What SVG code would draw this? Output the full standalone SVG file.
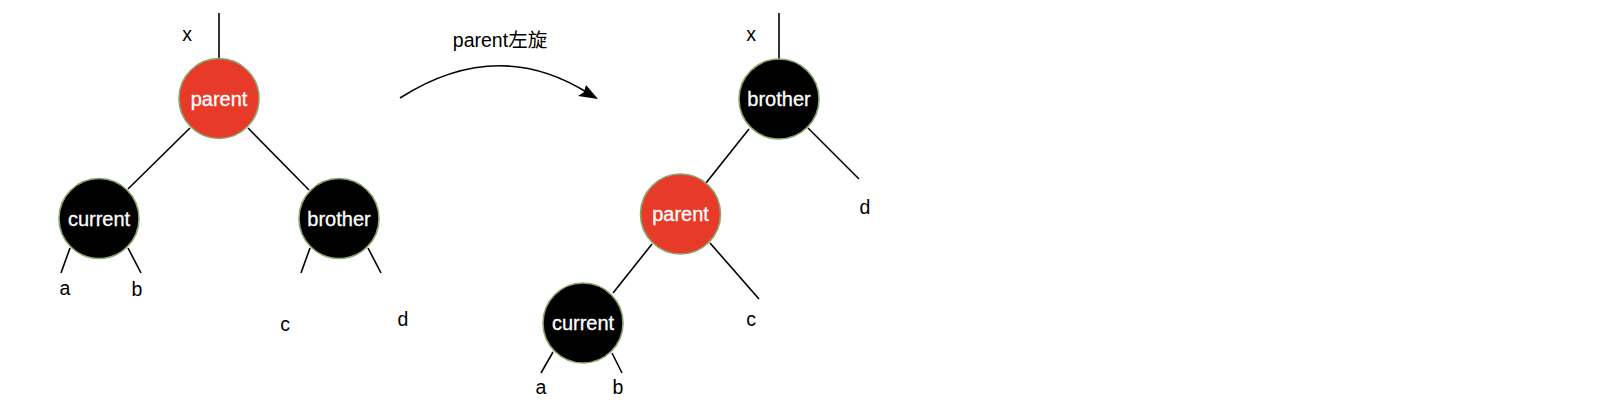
<svg xmlns="http://www.w3.org/2000/svg" width="1608" height="406" viewBox="0 0 1608 406">
<style>
.black{fill:#000000;stroke:#8aa66e;stroke-width:1.6}
.red{fill:#e83a28;stroke:#8aa66e;stroke-width:1.6}
.nl{font-family:"Liberation Sans",Arial,sans-serif;font-size:20px;fill:#ffffff;text-anchor:middle;stroke:#ffffff;stroke-width:0.3}
.lb{font-family:"Liberation Sans",Arial,"Noto Sans CJK SC",sans-serif;font-size:19.5px;fill:#000000;text-anchor:middle}
.e{stroke:#000000;stroke-width:1.6;fill:none}
</style>
<g id="connectors">
<line class="e" x1="219" y1="13" x2="219" y2="58"/>
<line class="e" x1="190" y1="128" x2="128" y2="189"/>
<line class="e" x1="248" y1="128" x2="309" y2="190"/>
<line class="e" x1="70" y1="248" x2="61" y2="273"/>
<line class="e" x1="128" y1="248" x2="141" y2="273"/>
<line class="e" x1="310" y1="248" x2="301" y2="273"/>
<line class="e" x1="368" y1="248" x2="381" y2="273"/>
<line class="e" x1="779" y1="13" x2="779" y2="59"/>
<line class="e" x1="749" y1="129" x2="706" y2="183"/>
<line class="e" x1="808" y1="128" x2="859" y2="179"/>
<line class="e" x1="652" y1="244" x2="613" y2="293"/>
<line class="e" x1="710" y1="243" x2="759" y2="299"/>
<line class="e" x1="553" y1="352" x2="541" y2="373"/>
<line class="e" x1="612" y1="353" x2="622" y2="373"/>
<path class="e" d="M400,98 Q497,36 588,93"/>
<path d="M598,99 L578,96 L584,92 L586,85 Z" fill="#000"/>
</g>
<g id="node-parent-left"><circle class="red" cx="219" cy="98.5" r="40"/><text class="nl" x="219" y="105.5">parent</text></g>
<g id="node-current-left"><circle class="black" cx="99" cy="218.5" r="40"/><text class="nl" x="99" y="225.5">current</text></g>
<g id="node-brother-left"><circle class="black" cx="339" cy="218.5" r="40"/><text class="nl" x="339" y="225.5">brother</text></g>
<g id="node-brother-right"><circle class="black" cx="779" cy="99" r="40"/><text class="nl" x="779" y="106">brother</text></g>
<g id="node-parent-right"><circle class="red" cx="680.5" cy="214" r="40"/><text class="nl" x="680.5" y="221">parent</text></g>
<g id="node-current-right"><circle class="black" cx="583" cy="323" r="40"/><text class="nl" x="583" y="330">current</text></g>
<g id="labels">
<text class="lb" x="187" y="41">x</text>
<text class="lb" x="65" y="295">a</text>
<text class="lb" x="137" y="296">b</text>
<text class="lb" x="285" y="331">c</text>
<text class="lb" x="403" y="326">d</text>
<text class="lb" x="500" y="47">parent左旋</text>
<text class="lb" x="751" y="41">x</text>
<text class="lb" x="865" y="214">d</text>
<text class="lb" x="751" y="326">c</text>
<text class="lb" x="541" y="394">a</text>
<text class="lb" x="618" y="394">b</text>
</g>
</svg>
